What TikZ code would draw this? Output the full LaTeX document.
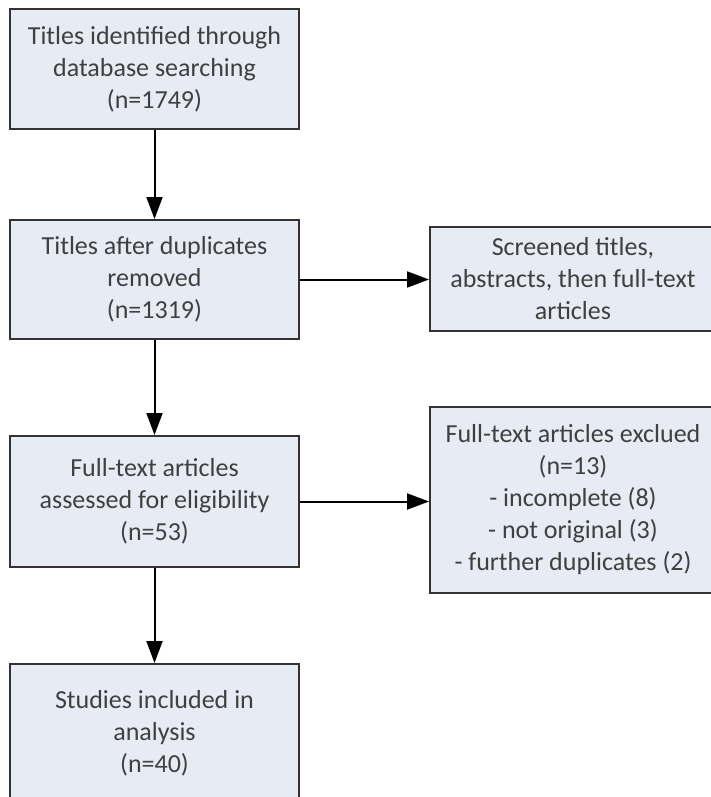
\documentclass[tikz,border=0pt]{standalone}
\usepackage{fontspec}
\setmainfont{Carlito}
\usepackage{tikz}
\usetikzlibrary{arrows.meta}

\definecolor{boxfill}{HTML}{E6EBF4}
\definecolor{boxline}{HTML}{333333}
\definecolor{boxtext}{HTML}{404040}

\begin{document}
\begin{tikzpicture}[x=1pt,y=-1pt,
  box/.style={rectangle,draw=boxline,fill=boxfill,line width=2pt,anchor=north west,
    align=center,text=boxtext,font=\fontsize{26}{32}\selectfont,inner sep=0pt},
  arr/.style={draw=black,line width=2pt,-{Triangle[length=22pt,width=16pt]}}]
\clip (0,0) rectangle (711,797);
\fill[white] (0,0) rectangle (711,797);

% main column
\node[box,minimum width=289pt,minimum height=120pt] (ident) at (9,8)
  {Titles identified through\\database searching\\(n=1749)};
\node[box,minimum width=289pt,minimum height=119pt] (dedup) at (9,219)
  {Titles after duplicates\\removed\\(n=1319)};
\node[box,minimum width=289pt,minimum height=131pt] (assess) at (9,435)
  {Full-text articles\\assessed for eligibility\\(n=53)};
\node[box,minimum width=289pt,minimum height=138pt] (incl) at (9,663)
  {Studies included in\\analysis\\(n=40)};

% side boxes
\node[box,minimum width=286pt,minimum height=104pt] (screen) at (429,226)
  {Screened titles,\\abstracts, then full-text\\articles};
\node[box,minimum width=286pt,minimum height=186pt] (excl) at (429,406)
  {Full-text articles exclued\\(n=13)\\- incomplete (8)\\- not original (3)\\- further duplicates (2)};

% arrows
\draw[arr] (ident.south) -- (dedup.north);
\draw[arr] (dedup.south) -- (assess.north);
\draw[arr] (assess.south) -- (incl.north);
\draw[arr] (dedup.east) -- (dedup.east -| screen.west);
\draw[arr] (assess.east) -- (assess.east -| excl.west);
\end{tikzpicture}
\end{document}
